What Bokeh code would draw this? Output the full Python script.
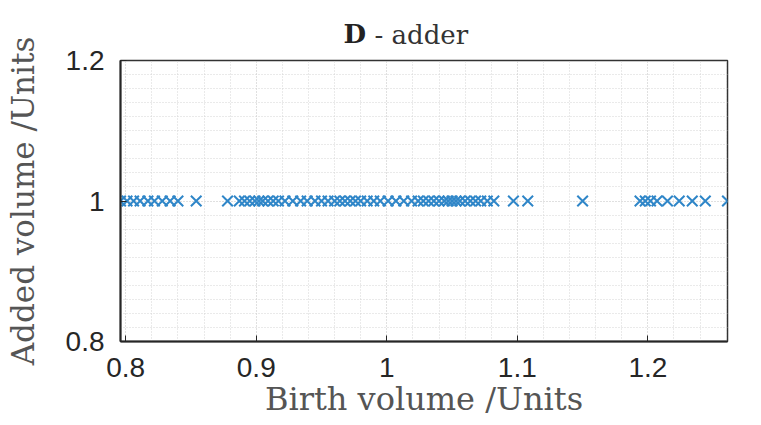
from bokeh.plotting import figure
from bokeh.models import FixedTicker, Label, Range1d
from bokeh.embed import file_html
from bokeh.resources import INLINE

birth_volume = [0.796, 0.801, 0.806, 0.811, 0.817, 0.822, 0.828, 0.834, 0.840, 0.854,
                0.878, 0.887, 0.891, 0.895, 0.899, 0.902, 0.905, 0.909, 0.913, 0.917,
                0.922, 0.928, 0.934, 0.939, 0.945, 0.950, 0.955, 0.960, 0.964, 0.968,
                0.972, 0.976, 0.980, 0.985, 0.990, 0.995, 1.001, 1.007, 1.013, 1.019,
                1.024, 1.028, 1.032, 1.036, 1.040, 1.044, 1.047, 1.050, 1.053, 1.056,
                1.060, 1.064, 1.068, 1.072, 1.077, 1.082, 1.097, 1.108, 1.150, 1.194,
                1.198, 1.202, 1.207, 1.215, 1.224, 1.234, 1.244, 1.261]
added_volume = [1.0] * len(birth_volume)

x_ticks = [0.8, 0.9, 1.0, 1.1, 1.2]
x_minor = [0.82, 0.84, 0.86, 0.88, 0.92, 0.94, 0.96, 0.98, 1.02, 1.04, 1.06, 1.08,
           1.12, 1.14, 1.16, 1.18, 1.22, 1.24, 1.26]
y_ticks = [0.8, 1.0, 1.2]
y_minor = [0.82, 0.84, 0.86, 0.88, 0.90, 0.92, 0.94, 0.96, 0.98,
           1.02, 1.04, 1.06, 1.08, 1.10, 1.12, 1.14, 1.16, 1.18]
x_labels = {0.8: "0.8", 0.9: "0.9", 1.0: "1", 1.1: "1.1", 1.2: "1.2"}
y_labels = {0.8: "0.8", 1.0: "1", 1.2: "1.2"}

p = figure(frame_width=607, frame_height=281, output_backend="svg", toolbar_location=None,
           x_range=Range1d(0.796, 1.261), y_range=Range1d(0.8, 1.2),
           min_border_left=120, min_border_right=34, min_border_top=59, min_border_bottom=84)
p.title.text = ""
p.outline_line_color = "#333333"
p.outline_line_width = 1.5
p.background_fill_color = "white"
p.border_fill_color = "white"

p.scatter(birth_volume, added_volume, marker="x", size=15, line_width=2,
          line_color="#2f86c8")

tick_font = "Liberation Sans"
label_font = "DejaVu Serif"

for ax, ticks, minor, labels in ((p.xaxis[0], x_ticks, x_minor, x_labels),
                                 (p.yaxis[0], y_ticks, y_minor, y_labels)):
    ax.ticker = FixedTicker(ticks=ticks, minor_ticks=minor)
    ax.major_label_overrides = labels
    ax.major_label_text_font = tick_font
    ax.major_label_text_font_size = "28px"
    ax.major_label_text_color = "#262626"
    ax.major_tick_in = 6
    ax.major_tick_out = 0
    ax.minor_tick_line_color = None
    ax.axis_line_color = "#262626"
    ax.axis_line_width = 2
    ax.major_tick_line_color = "#262626"
    ax.axis_label_text_font = label_font
    ax.axis_label_text_font_style = "normal"
    ax.axis_label_text_font_size = "32px"
    ax.axis_label_text_color = "#555555"

p.xaxis.axis_label = "Birth volume /Units"
p.yaxis.axis_label = "Added volume /Units"
p.yaxis.axis_label_text_font_size = "31px"
p.xaxis.major_label_standoff = 12
p.yaxis.major_label_standoff = 12
p.xaxis.axis_label_standoff = 0
p.yaxis.axis_label_standoff = 22

for g in (p.xgrid[0], p.ygrid[0]):
    g.grid_line_color = "#c0c0c0"
    g.grid_line_dash = "1 2"
    g.grid_line_width = 1
    g.minor_grid_line_color = "#d4d4d4"
    g.minor_grid_line_dash = "1 2"
    g.minor_grid_line_width = 1

# title: bold D and normal remainder, placed in the top margin
p.add_layout(Label(x=223, y=27, x_units="screen", y_units="screen", text="D",
                   text_font=label_font, text_font_style="bold", text_font_size="26px",
                   text_color="#222222", text_baseline="alphabetic", text_align="left"), "above")
p.add_layout(Label(x=254, y=-4, x_units="screen", y_units="screen", text="- adder",
                   text_font=label_font, text_font_style="normal", text_font_size="26px",
                   text_color="#333333", text_baseline="alphabetic", text_align="left"), "above")

open("out.html", "w").write(file_html(p, INLINE))
